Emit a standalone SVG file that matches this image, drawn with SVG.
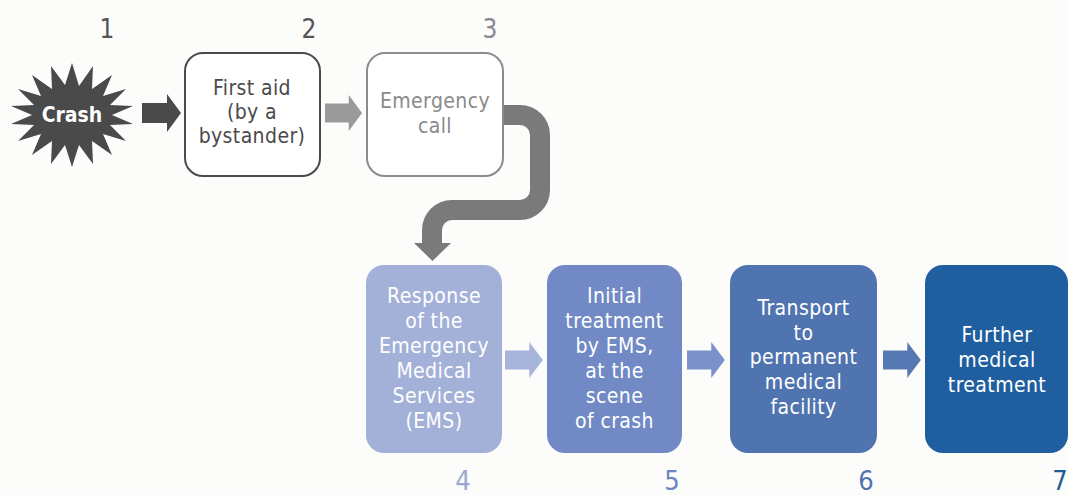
<svg xmlns="http://www.w3.org/2000/svg" width="1069" height="495" viewBox="0 0 1069 495">
<style>
text{font-family:"DejaVu Sans Condensed","DejaVu Sans","Open Sans",sans-serif;font-stretch:condensed;text-anchor:middle}
.lbl{font-size:21px;letter-spacing:0.4px}
.num{font-size:26px}
.numb{font-size:27px}
.wt{fill:#ffffff}
</style>
<defs>
<path id="arr" d="M0,-10 H25 V-19 L39,0 L25,19 V10 H0 Z"/>
</defs>
<rect x="0" y="0" width="1069" height="495" fill="#fcfcfa"/>

<g id="numbers">
<text class="num" x="107" y="38" fill="#555555">1</text>
<text class="num" x="309" y="38" fill="#555555">2</text>
<text class="num" x="490" y="38" fill="#8a8a8a">3</text>
<text class="numb" x="463" y="490" fill="#9aa8d0">4</text>
<text class="numb" x="672" y="490" fill="#6d86c2">5</text>
<text class="numb" x="866" y="490" fill="#4f74ae">6</text>
<text class="numb" x="1060" y="490" fill="#1f5b97">7</text>
</g>

<g id="connectors">
<use href="#arr" transform="translate(142,113)" fill="#4a4a4a"/>
<use href="#arr" transform="translate(325,113) scale(0.95)" fill="#9a9a9a"/>
<path d="M503,115 H520 A20,20 0 0 1 540,135 V190 A20,20 0 0 1 520,210 H452 A20,20 0 0 0 432,230 V244" fill="none" stroke="#7a7a7a" stroke-width="20"/>
<polygon points="414,243 451,243 432.5,261" fill="#7a7a7a"/>
<use href="#arr" transform="translate(505,360) scale(0.97,0.95)" fill="#a8b5db"/>
<use href="#arr" transform="translate(687,360) scale(0.97,0.95)" fill="#7a91c9"/>
<use href="#arr" transform="translate(883,360) scale(0.97,0.95)" fill="#5678b3"/>
</g>

<g id="n1">
<polygon fill="#4a4a4a" points="72,63 79,86 93,66 92,89 112,75 103,96 126,89 110,105 133,106 112,115 133,124 110,125 126,141 103,134 112,155 92,141 93,164 79,145 72,167 65,145 51,164 52,141 32,155 41,134 18,141 34,125 11,124 32,115 11,106 34,105 18,89 41,96 32,75 52,89 51,66 65,85"/>
<text x="72" y="122" class="wt" font-size="21" font-weight="bold">Crash</text>
</g>

<g id="n2">
<rect x="185" y="53" width="135" height="123" rx="18" fill="#ffffff" stroke="#4a4a4a" stroke-width="2"/>
<text class="lbl" fill="#4a4a4a"><tspan x="252" y="95">First aid</tspan><tspan x="252" y="119">(by a</tspan><tspan x="252" y="143">bystander)</tspan></text>
</g>

<g id="n3">
<rect x="367" y="53" width="136" height="123" rx="18" fill="#ffffff" stroke="#8c8c8c" stroke-width="2"/>
<text class="lbl" fill="#8a8a8a"><tspan x="435" y="108">Emergency</tspan><tspan x="435" y="133">call</tspan></text>
</g>

<g id="n4">
<rect x="366" y="265" width="136" height="188" rx="18" fill="#a3b1d8"/>
<text class="lbl wt"><tspan x="434" y="303">Response</tspan><tspan x="434" y="328">of the</tspan><tspan x="434" y="353">Emergency</tspan><tspan x="434" y="378">Medical</tspan><tspan x="434" y="403">Services</tspan><tspan x="434" y="428">(EMS)</tspan></text>
</g>

<g id="n5">
<rect x="547" y="265" width="135" height="188" rx="18" fill="#7189c4"/>
<text class="lbl wt"><tspan x="614.5" y="303">Initial</tspan><tspan x="614.5" y="328">treatment</tspan><tspan x="614.5" y="353">by EMS,</tspan><tspan x="614.5" y="378">at the</tspan><tspan x="614.5" y="403">scene</tspan><tspan x="614.5" y="428">of crash</tspan></text>
</g>

<g id="n6">
<rect x="730" y="265" width="147" height="188" rx="18" fill="#4f74b0"/>
<text class="lbl wt"><tspan x="803.5" y="315">Transport</tspan><tspan x="803.5" y="340">to</tspan><tspan x="803.5" y="364">permanent</tspan><tspan x="803.5" y="389">medical</tspan><tspan x="803.5" y="414">facility</tspan></text>
</g>

<g id="n7">
<rect x="925" y="265" width="143" height="188" rx="18" fill="#1f5f9f"/>
<text class="lbl wt"><tspan x="997" y="342">Further</tspan><tspan x="997" y="367">medical</tspan><tspan x="997" y="392">treatment</tspan></text>
</g>
</svg>
